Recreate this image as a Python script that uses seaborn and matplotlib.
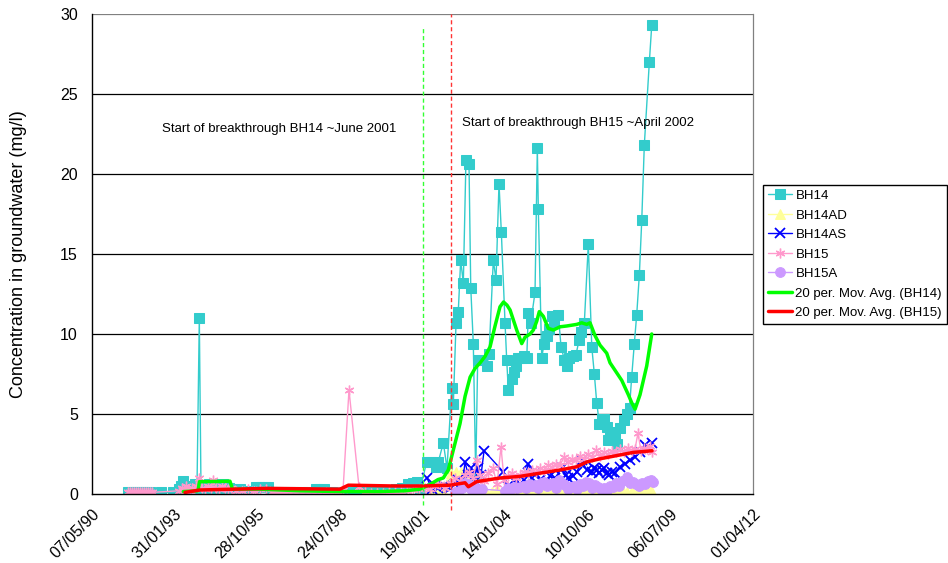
import numpy as np
import pandas as pd
import matplotlib
matplotlib.use("Agg")
import matplotlib.pyplot as plt
import seaborn as sns

# ---------------- data (dates are Excel day serials) ----------------
bh14_days = [33439, 33476, 33512, 33548, 33585, 33621, 33657, 33706, 33839, 33984,
             34057, 34081, 34105, 34130, 34154, 34178, 34202, 34226, 34251, 34275,
             34303, 34323, 34348, 34372, 34396, 34420, 34444, 34469, 34493, 34517,
             34541, 34566, 34590, 34614, 34638, 34662, 34687, 34735, 34795, 34857,
             34990, 35026, 35063, 35099, 35135, 35183, 35256, 35328, 35401, 35474,
             35546, 35619, 35716, 35764, 35813, 35886, 35958, 36031, 36103, 36176,
             36249, 36321, 36394, 36467, 36539, 36612, 36685, 36757, 36830, 36890,
             36935, 36975,
             37056, 37108, 37168, 37196, 37257, 37302, 37358, 37378, 37411, 37438,
             37467, 37499, 37531, 37568, 37589, 37620, 37649, 37673, 37722, 37782,
             37810, 37862, 37895, 37931, 37959, 38004, 38024, 38044, 38085, 38113,
             38141, 38165, 38194, 38234, 38267, 38286, 38315, 38367, 38395, 38407,
             38448, 38476, 38509, 38537, 38569, 38597, 38649, 38682, 38722, 38751,
             38779, 38823, 38863, 38899, 38924, 38964, 39012, 39054, 39085, 39114,
             39146, 39175, 39202, 39235, 39254, 39275, 39311, 39335, 39356, 39396,
             39444, 39484, 39511, 39537, 39569, 39598, 39630, 39659, 39690, 39751,
             39780]
bh14_vals = [0.1, 0.1, 0.1, 0.1, 0.1, 0.1, 0.1, 0.1, 0.1, 0.1,
             0.3, 0.5, 0.8, 0.4, 0.3, 0.5, 0.3, 0.4, 0.6, 0.4,
             11.0, 0.5, 0.4, 0.3, 0.4, 0.6, 0.5, 0.6, 0.5, 0.4,
             0.3, 0.5, 0.6, 0.5, 0.3, 0.4, 0.3, 0.2, 0.3, 0.2,
             0.45, 0.45, 0.45, 0.45, 0.45, 0.1, 0.1, 0.1, 0.1, 0.1,
             0.1, 0.1, 0.3, 0.3, 0.3, 0.15, 0.1, 0.05, 0.1, 0.1,
             0.1, 0.1, 0.1, 0.15, 0.2, 0.2, 0.3, 0.4, 0.6, 0.7,
             0.77, 0.3,
             2.0, 2.0, 1.7, 2.0, 3.2, 1.6, 6.6, 5.6, 10.7, 11.4,
             14.6, 13.2, 20.9, 20.6, 12.9, 9.4, 1.2, 8.4, 8.35, 8.0,
             8.75, 14.6, 13.4, 19.4, 16.4, 10.7, 8.4, 6.5, 7.2, 7.6,
             8.0, 8.5, 8.5, 8.6, 8.5, 11.3, 10.7, 12.6, 21.6, 17.8,
             8.5, 9.4, 9.9, 10.3, 11.1, 10.7, 11.2, 9.2, 8.4, 8.0,
             8.5, 8.6, 8.7, 9.6, 10.1, 10.7, 15.6, 9.2, 7.5, 5.7,
             4.4, 4.7, 4.7, 4.2, 3.4, 3.9, 3.4, 3.6, 3.1, 4.1,
             4.6, 5.0, 5.4, 7.3, 9.4, 11.2, 13.7, 17.1, 21.8, 27.0,
             29.3]

bh14ad_days = [37097, 37169, 37242, 37302, 37351, 37411, 37472, 37532, 37581, 37641,
               37702, 37774, 37847, 37907, 37968, 38028, 38089, 38149, 38210, 38270,
               38331, 38391, 38452, 38512, 38573, 38633, 38694, 38754, 38815, 38875,
               38936, 38996, 39057, 39117, 39178, 39239, 39299, 39359, 39420, 39481,
               39541, 39602, 39662, 39723, 39771]
bh14ad_vals = [0.1, 0.2, 0.3, 0.6, 1.3, 1.4, 1.35, 1.2, 0.5, 0.1,
               0.2, 0.15, 0.1, 0.3, 0.05, 0.1, 0.2, 0.05, 0.1, 0.2,
               0.05, 0.1, 0.15, 0.05, 0.1, 0.2, 0.05, 0.1, 0.15, 0.05,
               0.1, 0.2, 0.05, 0.1, 0.25, 0.1, 0.05, 0.15, 0.3, 0.1,
               0.2, 0.1, 0.3, 0.2, 0.25]

bh14as_days = [37059, 37120, 37193, 37266, 37338, 37399, 37436, 37484, 37520, 37557,
               37593, 37641, 37678, 37714, 37750, 37980, 38040, 38089, 38137, 38185,
               38234, 38286, 38331, 38367, 38427, 38488, 38548, 38609, 38690, 38742,
               38767, 38827, 38875, 38932, 38993, 39054, 39084, 39114, 39145, 39175,
               39202, 39235, 39263, 39296, 39335, 39396, 39457, 39517, 39578, 39638,
               39699, 39739, 39780]
bh14as_vals = [1.0, 0.3, 0.4, 0.5, 0.4, 0.6, 0.9, 0.5, 2.0, 1.2,
               1.6, 0.8, 1.6, 1.2, 2.7, 1.4, 0.5, 0.4, 0.7, 0.6,
               0.9, 1.9, 1.0, 1.3, 0.9, 0.6, 1.1, 1.0, 1.6, 1.2,
               1.0, 1.1, 1.4, 2.1, 1.5, 1.4, 1.6, 1.5, 1.3, 1.5,
               1.6, 1.3, 1.2, 1.4, 1.3, 1.7, 1.9, 2.1, 2.3, 2.6,
               3.05, 2.9, 3.2]

bh15_days = [33439, 33464, 33488, 33512, 33536, 33561, 33585, 33609, 33633, 33657,
             33682, 33706, 33730, 34057, 34093, 34118, 34142, 34166, 34190, 34214,
             34239, 34263, 34299, 34335, 34372, 34408, 34444, 34469, 34505, 34541,
             34578, 34614, 34650, 34687, 34747, 34820, 34892, 34965, 35038, 35111,
             35183, 35256, 35328, 35401, 35474, 35546, 35619, 35691, 35764, 35837,
             35909, 35982, 36043, 36115, 36236, 36309, 36382, 36454, 36527, 36600,
             36672, 36745, 36818, 36890, 36963,
             37036, 37097, 37157, 37218, 37278, 37338, 37399, 37460, 37520, 37569,
             37617, 37665, 37702, 37750, 37798, 37859, 37907, 37955, 37992, 38040,
             38089, 38137, 38185, 38234, 38282, 38331, 38379, 38427, 38476, 38524,
             38573, 38621, 38670, 38718, 38766, 38815, 38863, 38912, 38960, 39008,
             39057, 39105, 39154, 39202, 39251, 39299, 39347, 39396, 39444, 39493,
             39541, 39577, 39613, 39650, 39686, 39722, 39759, 39783]
bh15_vals = [0.1, 0.1, 0.1, 0.1, 0.1, 0.1, 0.1, 0.1, 0.1, 0.1,
             0.1, 0.1, 0.1, 0.2, 0.4, 0.3, 0.5, 0.3, 0.2, 0.4,
             0.3, 0.5, 1.0, 0.4, 0.3, 0.5, 0.4, 0.9, 0.4, 0.3,
             0.5, 0.4, 0.3, 0.4, 0.2, 0.2, 0.3, 0.2, 0.3, 0.3,
             0.1, 0.1, 0.1, 0.05, 0.05, 0.05, 0.05, 0.05, 0.05, 0.1,
             0.05, 0.1, 0.25, 6.5, 0.45, 0.1, 0.05, 0.05, 0.05, 0.1,
             0.1, 0.15, 0.2, 0.25, 0.3,
             0.4, 0.3, 0.5, 0.6, 0.4, 0.7, 1.0, 0.8, 1.2, 1.4,
             1.0, 2.1, 1.2, 0.8, 1.3, 1.6, 0.6, 2.95, 0.9, 1.1,
             1.3, 1.0, 1.2, 1.4, 1.3, 1.5, 1.4, 1.6, 1.5, 1.8,
             1.7, 1.9, 1.8, 2.3, 2.0, 2.2, 2.1, 2.4, 2.2, 2.5,
             2.3, 2.75, 2.4, 2.6, 2.5, 2.7, 2.6, 2.8, 2.6, 2.9,
             2.7, 2.8, 3.8, 2.7, 2.9, 2.8, 3.0, 2.6]

bh15a_days = [37399, 37436, 37484, 37520, 37557, 37593, 37641, 37678, 37726, 38004,
              38040, 38077, 38113, 38149, 38185, 38222, 38258, 38294, 38331, 38367,
              38403, 38440, 38476, 38512, 38548, 38585, 38621, 38657, 38694, 38730,
              38767, 38803, 38839, 38875, 38912, 38948, 38984, 39021, 39057, 39093,
              39130, 39166, 39202, 39239, 39275, 39311, 39347, 39384, 39420, 39457,
              39481, 39517, 39553, 39590, 39626, 39662, 39699, 39735, 39771, 39795]
bh15a_vals = [0.1, 0.15, 0.4, 0.7, 0.6, 0.3, 0.45, 0.15, 0.3, 0.2,
              0.35, 0.3, 0.45, 0.4, 0.45, 0.5, 0.35, 0.6, 0.5, 0.55,
              0.4, 0.7, 0.77, 0.5, 0.6, 0.67, 0.4, 0.87, 0.7, 0.56,
              0.3, 0.45, 0.5, 0.3, 0.6, 0.5, 0.77, 0.7, 0.4, 0.56,
              0.45, 0.3, 0.4, 0.25, 0.5, 0.45, 0.67, 0.5, 0.8, 0.9,
              1.08, 0.7, 0.77, 0.6, 0.5, 0.67, 0.6, 0.8, 0.9, 0.77]

ma14_days = [34109, 34287, 34305, 34493, 34674, 34705, 35038, 35522, 36006, 36490,
             36793, 36975, 37097, 37193, 37257, 37317, 37378, 37459, 37520, 37581,
             37641, 37702, 37762, 37823, 37883, 37943, 37986, 38028, 38065, 38145,
             38206, 38246, 38307, 38347, 38388, 38419, 38468, 38528, 38589, 38670,
             38751, 38872, 38932, 38993, 39033, 39093, 39154, 39235, 39275, 39417,
             39497, 39538, 39578, 39638, 39719, 39780]
ma14_vals = [0.15, 0.2, 0.77, 0.78, 0.8, 0.3, 0.3, 0.2, 0.15, 0.15,
             0.2, 0.3, 0.6, 0.9, 1.0, 1.5, 2.75, 4.4, 6.1, 7.3,
             7.85, 8.2, 8.6, 9.2, 10.5, 11.7, 12.0, 11.8, 11.5, 10.25,
             9.4, 9.8, 10.0, 10.25, 10.8, 11.4, 11.1, 10.35, 10.25, 10.45,
             10.5, 10.6, 10.7, 10.6, 10.7, 9.9, 9.3, 8.8, 8.2, 7.1,
             6.2, 5.7, 5.3, 6.2, 8.0, 10.0]

ma15_days = [34130, 34311, 34711, 35123, 36006, 36107, 36648, 37011, 37338, 37520,
             37560, 37661, 37943, 38185, 38427, 38670, 38872, 38993, 39154, 39356,
             39557, 39784]
ma15_vals = [0.1, 0.25, 0.3, 0.35, 0.3, 0.55, 0.5, 0.5, 0.55, 0.7,
             0.45, 0.77, 1.0, 1.1, 1.3, 1.5, 1.7, 2.0, 2.2, 2.4,
             2.6, 2.7]

breakthrough_days = [37007, 37346]
breakthrough_labels = ["Start of breakthrough BH14 ~June 2001",
                       "Start of breakthrough BH15 ~April 2002"]
label_pos_days = [33851, 37487]
label_pos_vals = [22.8, 23.2]

xtick_days = [33000, 34000, 35000, 36000, 37000, 38000, 39000, 40000, 41000]
xtick_labels = ["07/05/90", "31/01/93", "28/10/95", "24/07/98", "19/04/01",
                "14/01/04", "10/10/06", "06/07/09", "01/04/12"]
ytick_vals = [0, 5, 10, 15, 20, 25, 30]


def to_dt(serial):
    return pd.to_datetime(np.asarray(serial, dtype=float), unit="D", origin="1899-12-30")


# ---------------- style ----------------
sns.set_theme(style="white")
plt.rcParams["font.family"] = ["Liberation Sans", "DejaVu Sans"]
plt.rcParams["text.color"] = "black"
plt.rcParams["axes.labelcolor"] = "black"
plt.rcParams["xtick.color"] = "black"
plt.rcParams["ytick.color"] = "black"
FS = 9.5

fig = plt.figure(figsize=(9.48, 5.63), dpi=100)
ax = fig.add_axes([0.0967, 0.1226, 0.6971, 0.8525])

# gridlines
for v in ytick_vals[1:]:
    ax.axhline(v, color="black" if v < 30 else "#808080", lw=0.9, zorder=0)

series = [
    ("BH14", bh14_days, bh14_vals, dict(color="#33CCCC", marker="s", markersize=6.5,
                                        markeredgecolor="#33CCCC", markerfacecolor="#33CCCC")),
    ("BH14AD", bh14ad_days, bh14ad_vals, dict(color="#FFFF99", marker="^", markersize=6.5,
                                              markeredgecolor="#FFFF99", markerfacecolor="#FFFF99")),
    ("BH14AS", bh14as_days, bh14as_vals, dict(color="#0000FF", marker="x", markersize=6.5,
                                              markeredgewidth=1.3, markeredgecolor="#0000FF")),
    ("BH15", bh15_days, bh15_vals, dict(color="#FF99CC", marker=(6, 2, 0), markersize=7,
                                        markeredgewidth=1.0, markeredgecolor="#FF99CC")),
    ("BH15A", bh15a_days, bh15a_vals, dict(color="#CC99FF", marker="o", markersize=7,
                                           markeredgecolor="#CC99FF", markerfacecolor="#CC99FF")),
]
for name, d, v, kw in series:
    sns.lineplot(x=to_dt(d), y=v, ax=ax, label=name, lw=1.0, estimator=None, sort=False, **kw)

sns.lineplot(x=to_dt(ma14_days), y=ma14_vals, ax=ax, color="#00FF00", lw=2.5,
             label="20 per. Mov. Avg. (BH14)", estimator=None, sort=False)
sns.lineplot(x=to_dt(ma15_days), y=ma15_vals, ax=ax, color="#FF0000", lw=2.5,
             label="20 per. Mov. Avg. (BH15)", estimator=None, sort=False)

# breakthrough markers
bt = to_dt(breakthrough_days)
ax.vlines(bt[0], -0.7, 29.1, colors="#33FF33", linestyles=(0, (3, 2)), lw=1.0, clip_on=False)
ax.vlines(bt[1], -1.0, 30.0, colors="#FF3333", linestyles=(0, (3, 2)), lw=1.0, clip_on=False)
lp = to_dt(label_pos_days)
for i in range(2):
    ax.text(lp[i], label_pos_vals[i], breakthrough_labels[i], fontsize=FS,
            va="center", ha="left", color="black")

# axes
ax.set_xlim(to_dt([33000])[0], to_dt([41000])[0])
ax.set_ylim(0, 30)
ax.set_xticks(to_dt(xtick_days))
ax.set_xticklabels(xtick_labels, rotation=45, ha="right", rotation_mode="anchor", fontsize=11.5)
ax.set_yticks(ytick_vals)
ax.set_yticklabels([str(v) for v in ytick_vals], fontsize=11.5)
ax.tick_params(axis="x", direction="out", length=5, width=1, color="black", pad=4)
ax.tick_params(axis="y", direction="out", length=4, width=1, color="black", pad=6)
ax.set_xlabel("")
ax.set_ylabel("Concentration in groundwater (mg/l)", fontsize=13, labelpad=24)
for s in ["left", "bottom"]:
    ax.spines[s].set_color("black")
    ax.spines[s].set_linewidth(1.0)
ax.spines["top"].set_visible(False)
ax.spines["right"].set_color("#808080")
ax.spines["right"].set_linewidth(0.9)
ax.grid(False)

handles, labels = ax.get_legend_handles_labels()
leg = ax.legend(handles, labels, loc="upper left", bbox_to_anchor=(0.805, 0.671),
                bbox_transform=fig.transFigure, frameon=True, fancybox=False,
                edgecolor="black", framealpha=1, fontsize=FS, handlelength=1.8,
                labelspacing=0.55, borderpad=0.35, handletextpad=0.3, borderaxespad=0)
leg.get_frame().set_linewidth(1.0)

fig.savefig("out.png", dpi=100)
